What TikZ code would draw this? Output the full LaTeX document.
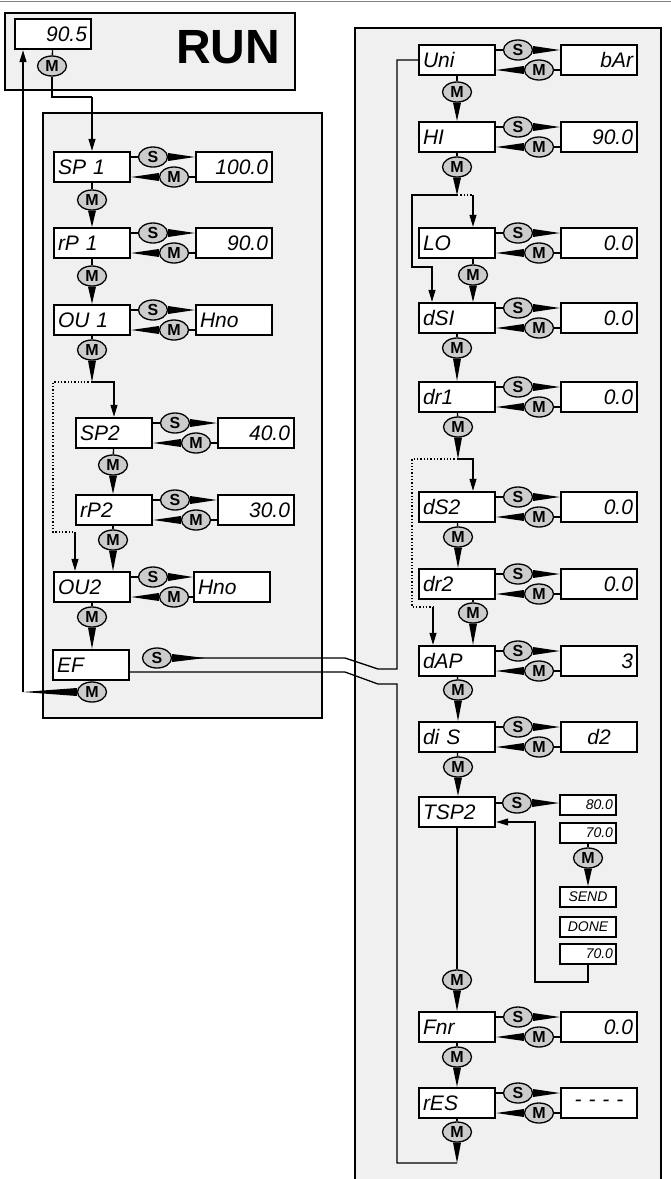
\documentclass[tikz,border=0pt]{standalone}
\usepackage{fontspec}
\setsansfont{Liberation Sans}
\usetikzlibrary{arrows.meta,calc,shapes.geometric}
\newcommand\wedgeto[2]{\fill ($(#1)!4pt!90:(#2)$) -- (#2) -- ($(#1)!4pt!-90:(#2)$) -- cycle;}
\begin{document}
\begin{tikzpicture}[
            x=1pt, y=-1pt, line width=1.3pt,
            disp/.style={draw, line width=2.4pt, fill=white, minimum height=30pt, text width=68pt, inner sep=4pt, font=\sffamily\itshape\fontsize{21}{21}\selectfont},
            small/.style={draw, line width=1.8pt, fill=white, minimum height=20pt, text width=50pt, inner sep=3pt, align=right, font=\sffamily\itshape\fontsize{14}{14}\selectfont},
            key/.style={ellipse, draw, line width=1.3pt, fill=gray!40, minimum width=29pt, minimum height=20pt, inner sep=0pt, font=\sffamily\bfseries\fontsize{16}{16}\selectfont},
            flow/.style={-{Triangle[length=12pt,width=7pt]}},
            dots/.style={dotted},
            panel/.style={draw, fill=gray!12}
        ]
            \useasboundingbox (0,0) rectangle (671,1179);
            \draw [gray] (0,1.5) -- (671,1.5);

% Panels
            \draw [panel] (5,13) rectangle (295,90);
            \draw [panel] (43,113) rectangle (322,718);
            \draw [panel] (355,28) rectangle (661,1190);

% RUN display
            \node (run) [disp, align=right] at (53,34) {90.5};
            \node (runm) [key] at (52,66) {M};
            \node (runlbl) [font=\sffamily\bfseries\fontsize{48}{48}\selectfont] at (228,47) {RUN};
            \draw (run) -- (runm);

% Parameter rows with S / M to the value
            \foreach \nm/\x/\y/\lab/\vx/\val/\al in {
                    sp1/92/167/SP 1/234/100.0/right, rp1/92/243/rP 1/234/90.0/right,
                    ou1/92/320/OU 1/234/Hno/left, sp2/114/433/SP2/256/40.0/right,
                    rp2/114/510/rP2/256/30.0/right, ou2/92/587/OU2/232/Hno/left,
                    uni/457/60/Uni/599/bAr/right, hi/457/137/HI/599/90.0/right,
                    lo/457/243/LO/599/0.0/right, dsa/457/318/dSI/599/0.0/right,
                    dra/457/397/dr1/599/0.0/right, dsb/457/507/dS2/599/0.0/right,
                    drb/457/584/dr2/599/0.0/right, dap/457/661/dAP/599/3/right,
                    dis/457/737/di S/599/d2/center, fnr/457/1027/Fnr/599/0.0/right,
                    res/457/1103/rES/599/- - - -/center} {
                \node (\nm) [disp, align=left] at (\x,\y) {\lab};
                \node (\nm v) [disp, align=\al] at (\vx,\y) {\val};
                \node (\nm s) [key] at (\x+61,\y-10) {S};
                \node (\nm m) [key] at (\x+82,\y+10) {M};
                \draw (\nm.east |- \nm s) -- (\nm s.west);
                \wedgeto{\nm s.east}{\nm v.west |- \nm s.east}
                \draw (\nm v.west |- \nm m) -- (\nm m.east);
                \wedgeto{\nm m.west}{\nm.east |- \nm m.west}
            }
            \node (ef) [disp, align=left] at (91,665) {EF};
            \node (efs) [key] at (157,658) {S};
            \node (efm) [key] at (92,692) {M};

% TSP2 block
            \node (tsp2) [disp, align=left] at (457,812) {TSP2};
            \node (tsp2s) [key] at (517,803) {S};
            \node (t1) [small] at (588,805) {80.0};
            \node (t2) [small] at (588,833) {70.0};
            \node (t2m) [key] at (588,858) {M};
            \node (t3) [small, align=center] at (588,897) {SEND};
            \node (t4) [small, align=center] at (588,927) {DONE};
            \node (t5) [small] at (588,954) {70.0};
            \coordinate (ret) at (535,982);
            \draw (tsp2.east |- tsp2s) -- (tsp2s);
            \wedgeto{tsp2s.east}{t1.west |- tsp2s.east}
            \draw (t2) -- (t2m);
            \wedgeto{t2m.south}{t3.north}
            \draw [flow] (t5.south) |- (ret) |- ($(tsp2.east)+(0,10)$);

% M keys between the rows
            \foreach \nm/\x/\y in {sp1d/92/200, rp1d/92/276, ou1d/92/350, sp2d/113/465, rp2d/113/540,
                    ou2d/92/617, unid/457/92, hid/457/167, lod/473/275, dsad/457/348, drad/458/427,
                    dsbd/458/537, drbd/473/613, dapd/458/690, disd/458/767, tspd/457/980,
                    fnrd/457/1057, resd/457/1132}
                \node (\nm) [key] at (\x,\y) {M};

            \coordinate (j0) at (92,97);
            \coordinate (j1) at (92,382);
            \coordinate (d1) at (75,532);
            \coordinate (j2) at (457,195);
            \coordinate (j2l) at (412,195);
            \coordinate (j2r) at (473,195);
            \coordinate (d2) at (432,267);
            \coordinate (j3) at (458,459);
            \coordinate (j3l) at (412,459);
            \coordinate (j3r) at (473,459);
            \coordinate (d3) at (433,607);
            \coordinate (back) at (23,692);
            \coordinate (rl) at (457,1163);

% Left column flow
            \draw (runm) |- (j0);
            \draw [flow] (j0) -- (sp1.north);
            \foreach \a/\m/\b in {sp1/sp1d/rp1, rp1/rp1d/ou1, sp2/sp2d/rp2, ou2/ou2d/ef} {
                \draw (\a) -- (\m);
                \wedgeto{\m.south}{\m |- \b.north}
            }
            \draw (ou1) -- (ou1d);
            \wedgeto{ou1d.south}{j1}
            \draw [flow] (j1) -| (sp2.north);
            \draw [dots] (j1) -- (53,382) |- (d1);
            \draw [flow] (d1) -- (d1 |- ou2.north);
            \draw (rp2.south -| rp2d) -- (rp2d);
            \wedgeto{rp2d.south}{rp2d |- ou2.north}
            \draw (ef) -- (efm);
            \wedgeto{efm.west}{back}
            \draw [flow] (back) -- (back |- run.south);

% Links between EF and the right column
            \wedgeto{efs.east}{205,658}
            \draw (efs.east) -- (345,658) -- (378,669) -- (397,669) |- (uni.west);
            \draw (ef.east |- 0,672) -- (345,672) -- (378,684) -- (397,684) |- (rl);

% Right column flow
            \foreach \a/\m/\b in {uni/unid/hi, dsa/dsad/dra, dsb/dsbd/drb, dap/dapd/dis, dis/disd/tsp2, fnr/fnrd/res} {
                \draw (\a) -- (\m);
                \wedgeto{\m.south}{\m |- \b.north}
            }
            \draw (hi) -- (hid);
            \wedgeto{hid.south}{j2}
            \draw [flow] (j2) -- (j2l) |- (d2) -- (d2 |- dsa.north);
            \draw [dots] (j2) -- (j2r);
            \draw [flow] (j2r) -- (j2r |- lo.north);
            \draw (lo.south -| lod) -- (lod);
            \wedgeto{lod.south}{lod |- dsa.north}
            \draw (dra) -- (drad);
            \wedgeto{drad.south}{j3}
            \draw [flow] (j3) -- (j3r) -- (j3r |- dsb.north);
            \draw [dots] (j3) -- (j3l) |- (d3);
            \draw [flow] (d3) -- (d3 |- dap.north);
            \draw (drb.south -| drbd) -- (drbd);
            \wedgeto{drbd.south}{drbd |- dap.north}
            \draw (res) -- (resd);
            \wedgeto{resd.south}{rl}
            \draw (tsp2) -- (tspd);
            \wedgeto{tspd.south}{fnr.north}
        \end{tikzpicture}
\end{document}
